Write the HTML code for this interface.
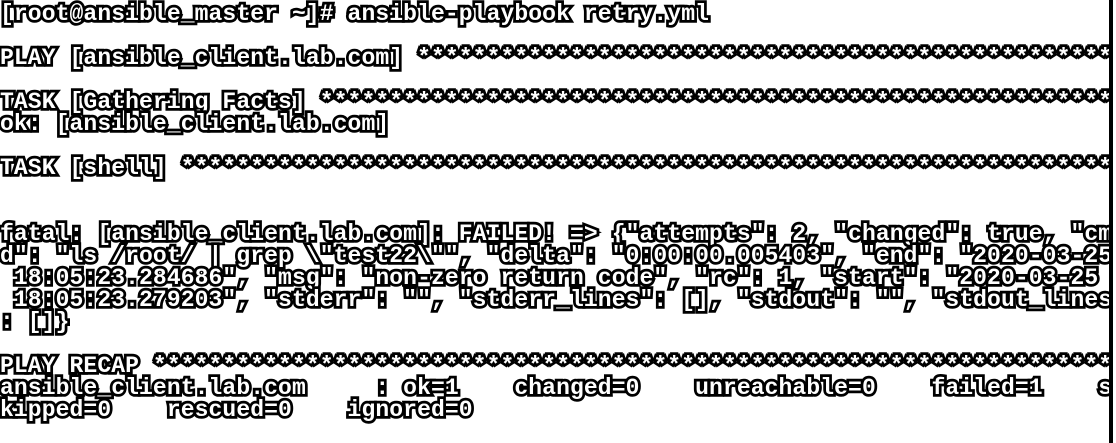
<!DOCTYPE html>
<html><head><style>
html,body{margin:0;padding:0;background:#fff;width:1116px;height:443px;overflow:hidden;}
pre{position:absolute;left:0;top:3px;margin:0;font-family:"Liberation Mono",monospace;font-weight:bold;font-size:23px;letter-spacing:0.1px;line-height:22px;color:#fff;-webkit-text-stroke:5.5px #000;paint-order:stroke fill;white-space:pre;}
.bar{position:absolute;left:1109px;top:0;width:4px;height:443px;background:#000;}
.cover{position:absolute;left:1113px;top:0;width:3px;height:443px;background:#fff;}
</style></head><body>
<pre>[root@ansible_master ~]# ansible-playbook retry.yml

PLAY [ansible_client.lab.com] **************************************************

TASK [Gathering Facts] *********************************************************
ok: [ansible_client.lab.com]

TASK [shell] *******************************************************************


fatal: [ansible_client.lab.com]: FAILED! =&gt; {"attempts": 2, "changed": true, "cm
d": "ls /root/ | grep \"test22\"", "delta": "0:00:00.005403", "end": "2020-03-25
 18:05:23.284686", "msg": "non-zero return code", "rc": 1, "start": "2020-03-25
 18:05:23.279203", "stderr": "", "stderr_lines": [], "stdout": "", "stdout_lines"
: []}

PLAY RECAP *********************************************************************
ansible_client.lab.com     : ok=1    changed=0    unreachable=0    failed=1    s
kipped=0    rescued=0    ignored=0</pre>
<div class="bar"></div><div class="cover"></div>
</body></html>
